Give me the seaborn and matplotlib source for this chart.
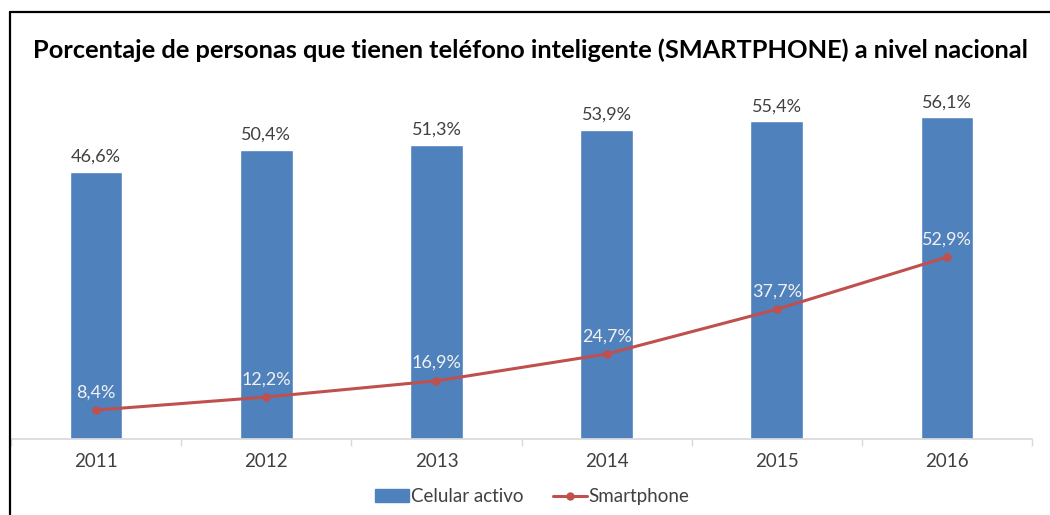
import matplotlib
matplotlib.use("Agg")
import matplotlib.pyplot as plt
import seaborn as sns
from matplotlib.lines import Line2D
from matplotlib.patches import Patch
from matplotlib.ticker import FixedLocator

# datos
years = ["2011", "2012", "2013", "2014", "2015", "2016"]
celular_activo = [46.6, 50.4, 51.3, 53.9, 55.4, 56.1]
smartphone = [8.4, 12.2, 16.9, 24.7, 37.7, 52.9]

BLUE = "#4F81BD"
RED = "#C0504D"
TXT = "#404040"

sns.set_theme(style="white")
plt.rcParams["font.family"] = ["Lato", "DejaVu Sans"]

fig = plt.figure(figsize=(10.5, 5.15), dpi=100)
ax = fig.add_axes([0.0105, 0.1476, 0.9725, 0.668])

sns.barplot(x=years, y=celular_activo, color=BLUE, width=0.31, saturation=1, ax=ax)
ax.set_ylim(0, 60)
for i, v in enumerate(celular_activo):
    ax.annotate(f"{v:.1f}%".replace(".", ","), (i, v), xytext=(0, 5), textcoords="offset points",
                ha="center", va="bottom", fontsize=13, color=TXT)

# eje secundario para smartphone
ax2 = ax.twinx()
sns.pointplot(x=years, y=smartphone, color=RED, markers="o", markersize=4.5,
              linewidth=2.2, ax=ax2)
ax2.set_ylim(0, 100)
for i, v in enumerate(smartphone):
    ax2.annotate(f"{v:.1f}%".replace(".", ","), (i, v), xytext=(0, 7), textcoords="offset points",
                 ha="center", va="bottom", fontsize=13, color="#F2F2F2")

for a in (ax, ax2):
    a.set_yticks([])
    a.set_ylabel("")
    for s in ("top", "left", "right"):
        a.spines[s].set_visible(False)
    a.spines["bottom"].set_color("#D9D9D9")
ax2.spines["bottom"].set_visible(False)

ax.set_xlim(-0.5, len(years) - 0.5)
ax.tick_params(axis="x", which="major", length=0, labelsize=13.5, labelcolor=TXT, pad=10)
ax.xaxis.set_minor_locator(FixedLocator([i - 0.5 for i in range(len(years) + 1)]))
ax.tick_params(axis="x", which="minor", length=5, color="#D9D9D9", width=1, bottom=True)

fig.suptitle("Porcentaje de personas que tienen teléfono inteligente (SMARTPHONE) a nivel nacional",
             x=0.505, y=0.902, ha="center", va="center", fontsize=18.3, fontweight="bold", color="black")

handles = [Patch(facecolor=BLUE, edgecolor=BLUE),
           Line2D([0], [0], color=RED, lw=2.2, marker="o", markersize=5)]
fig.legend(handles, ["Celular activo", "Smartphone"], loc="center", bbox_to_anchor=(0.507, 0.035),
           ncol=2, frameon=False, fontsize=13.5, handlelength=1.8, handletextpad=0.1,
           columnspacing=1.6, labelcolor=TXT)

# marco negro (solo arriba e izquierda visibles)
fig.add_artist(Line2D([0.0095, 1.0], [0.9767, 0.9767], color="black", lw=1.6, transform=fig.transFigure))
fig.add_artist(Line2D([0.0095, 0.0095], [0.0, 0.9767], color="black", lw=1.6, transform=fig.transFigure))

fig.savefig("out.png", dpi=100)
